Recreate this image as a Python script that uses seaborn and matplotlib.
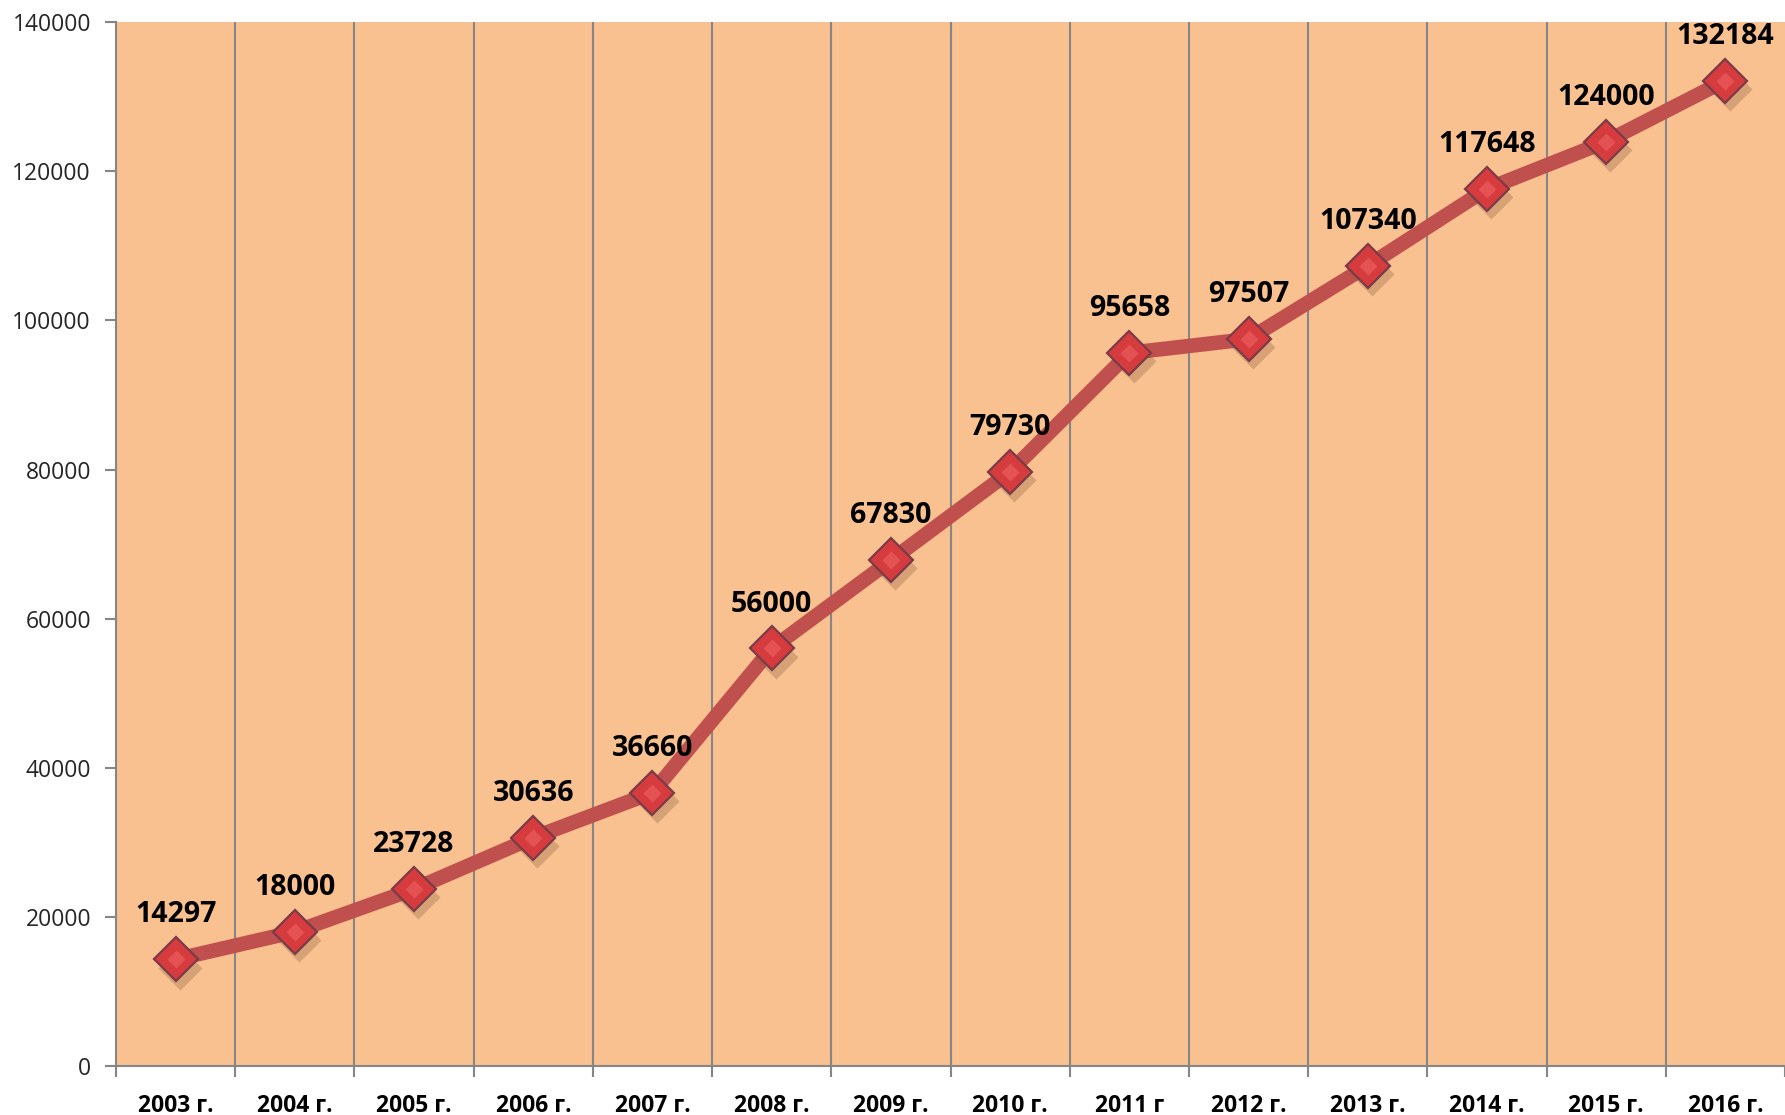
import matplotlib
matplotlib.use("Agg")
import matplotlib.pyplot as plt
import seaborn as sns
import numpy as np
import pandas as pd

years = ["2003 г.", "2004 г.", "2005 г.", "2006 г.", "2007 г.", "2008 г.", "2009 г.",
         "2010 г.", "2011 г", "2012 г.", "2013 г.", "2014 г.", "2015 г.", "2016 г."]
values = [14297, 18000, 23728, 30636, 36660, 56000, 67830, 79730, 95658, 97507,
          107340, 117648, 124000, 132184]
yticks = [0, 20000, 40000, 60000, 80000, 100000, 120000, 140000]

sns.set_theme(style="white")
plt.rcParams['font.family'] = ['Open Sans', 'DejaVu Sans']

df = pd.DataFrame({"pos": np.arange(len(years)), "value": values})

fig = plt.figure(figsize=(17.85, 11.15), dpi=100)
ax = fig.add_axes([0.065, 0.044, 0.935, 0.936])
ax.set_facecolor("#F9C090")

sns.lineplot(data=df, x="pos", y="value", ax=ax, color="#C0504D", linewidth=10.5,
             zorder=3, solid_capstyle="round")
# marker shadow
ax.plot(df["pos"] + 0.035, np.array(values) - 1100, linestyle="none", marker="D",
        markersize=22, markerfacecolor="#8a5a3a", markeredgecolor="none", alpha=0.3, zorder=4)
ax.plot(df["pos"], df["value"], linestyle="none", marker="D", markersize=22,
        markerfacecolor="#D63B3D", markeredgecolor="#7A3B48", markeredgewidth=1.6, zorder=5)
# subtle highlight
ax.plot(df["pos"], df["value"], linestyle="none", marker="D", markersize=9,
        markerfacecolor="#E8595A", markeredgecolor="none", alpha=0.8, zorder=6)

for p, v in zip(df["pos"], values):
    ax.annotate(f"{v}", (p, v), xytext=(0, 32), textcoords="offset points",
                ha="center", va="center", fontsize=20.5, fontweight="bold",
                color="black", clip_on=False, zorder=7)

n = len(years)
ax.set_xlim(-0.5, n - 0.5)
ax.set_ylim(0, 140000)
ax.set_yticks(yticks)
ax.set_yticklabels([str(t) for t in yticks], fontsize=16.5)
ax.set_xticks(np.arange(n))
ax.set_xticklabels(years, fontsize=16.5, fontweight="bold")
ax.set_xticks(np.arange(n + 1) - 0.5, minor=True)
ax.tick_params(axis="x", which="major", length=0, pad=20, colors="black")
ax.tick_params(axis="x", which="minor", length=8, width=1.5, color="#868686", direction="out", bottom=True)
ax.tick_params(axis="y", which="major", length=8, width=1.5, color="#868686", direction="out", left=True, pad=10)
ax.grid(False)
for b in np.arange(1, n) - 0.5:
    ax.axvline(b, color="#868686", linewidth=1.5, zorder=1)
ax.set_xlabel("")
ax.set_ylabel("")
for s in ["top", "right"]:
    ax.spines[s].set_visible(False)
for s in ["left", "bottom"]:
    ax.spines[s].set_color("#868686")
    ax.spines[s].set_linewidth(1.5)

fig.savefig("out.png", dpi=100)
